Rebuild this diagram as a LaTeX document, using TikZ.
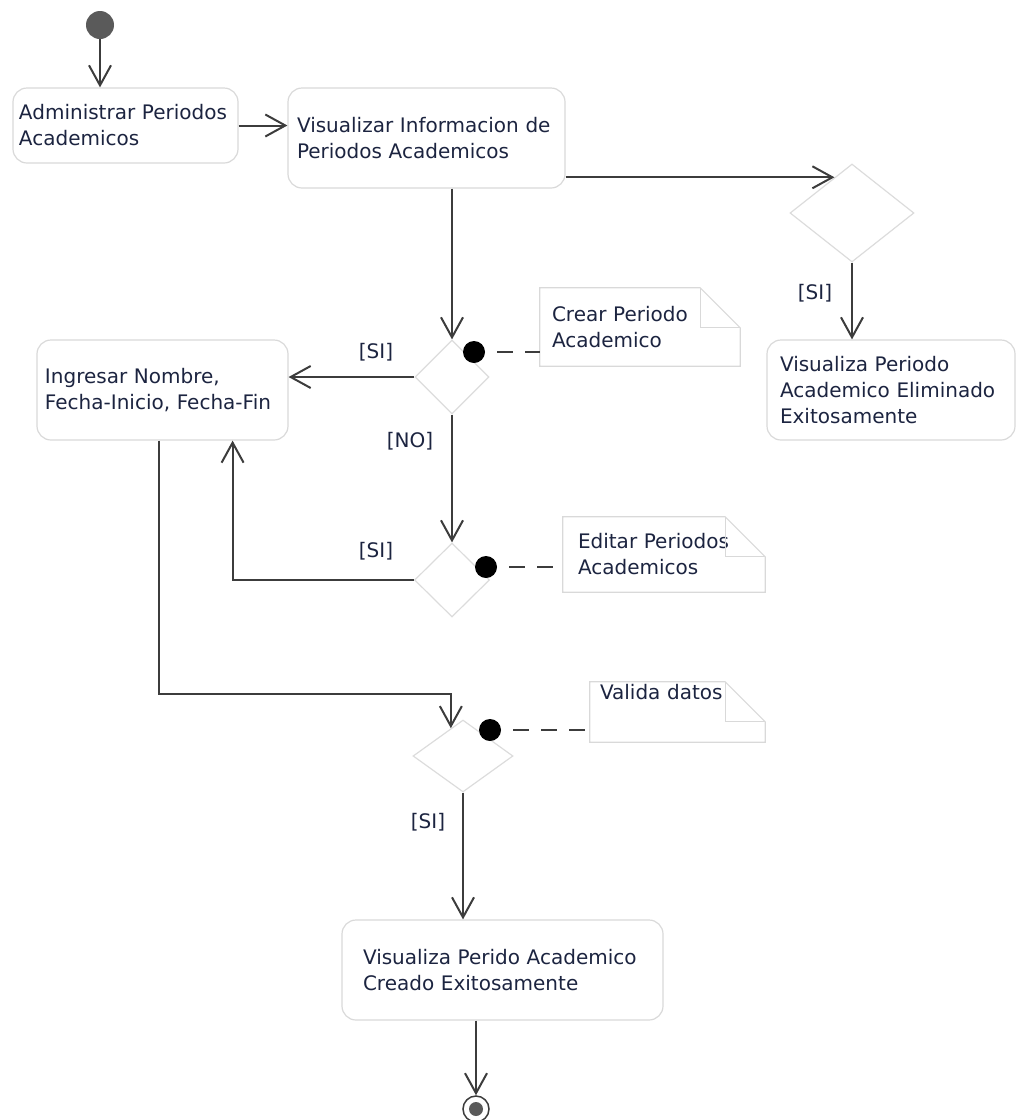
\documentclass[tikz,border=0pt]{standalone}
\usepackage{fontspec}
\setmainfont{DejaVu Sans}
\usetikzlibrary{shapes.geometric,arrows.meta,calc}
\definecolor{linec}{HTML}{3C3C3C}
\definecolor{boxc}{HTML}{D9D9D9}
\definecolor{diac}{HTML}{DCDCDC}
\definecolor{textc}{HTML}{1C2440}
\definecolor{initc}{HTML}{5A5A5A}
\begin{document}
\begin{tikzpicture}[x=1pt,y=-1pt,
  every node/.style={font=\fontsize{20}{26}\selectfont, text=textc},
  act/.style={draw=boxc, line width=1.2pt, rounded corners=14pt, align=left, inner ysep=0pt},
  dec/.style={draw=diac, line width=1.2pt, shape=diamond, inner sep=0pt},
  notebox/.style={align=left, inner ysep=0pt},
  notec/.style={draw=boxc, line width=1.2pt},
  notedot/.style={circle, fill=black, minimum size=22pt, inner sep=0pt},
  flow/.style={draw=linec, line width=2pt, -{Straight Barb[length=20pt,width=22pt]}},
  anchorline/.style={draw=linec, line width=2pt, dash pattern=on 16pt off 12pt, dash phase=16pt},
  guard/.style={inner sep=0pt}
]
\useasboundingbox (0,0) rectangle (1017,1120);

% initial and final
\node[circle, fill=initc, minimum size=28pt, inner sep=0pt] (init) at (100,25) {};
\node[circle, draw=linec, line width=1.5pt, minimum size=26pt, inner sep=0pt] (final) at (476,1109) {};
\node[circle, fill=initc, minimum size=14pt, inner sep=0pt] (finalin) at (final.center) {};

% actions
\node[act, minimum height=75pt, text width=213pt, inner xsep=6pt] (b1) at (125.5,125.5) {Administrar Periodos\\Academicos};
\node[act, minimum height=100pt, text width=259pt, inner xsep=9pt] (b2) at (426.5,138) {Visualizar Informacion de\\Periodos Academicos};
\node[act, minimum height=100pt, text width=235pt, inner xsep=8pt] (b3) at (162.5,390) {Ingresar Nombre,\\Fecha-Inicio, Fecha-Fin};
\node[act, minimum height=100pt, text width=222pt, inner xsep=13pt] (b4) at (891,390) {Visualiza Periodo\\Academico Eliminado\\Exitosamente};
\node[act, minimum height=100pt, text width=279pt, inner xsep=21pt] (b5) at (502.5,970) {Visualiza Perido Academico\\Creado Exitosamente};

% decisions
\node[dec, minimum width=124pt, minimum height=98pt] (d1) at (852,213) {};
\node[dec, minimum width=74pt, minimum height=74pt] (d2) at (452,377) {};
\node[dec, minimum width=75pt, minimum height=74pt] (d3) at (452,580) {};
\node[dec, minimum width=100pt, minimum height=72pt] (d4) at (463,756) {};

% notes
\node[notebox, minimum height=78pt, text width=176pt, inner xsep=12pt] (n1) at (640,327) {Crear Periodo\\Academico};
\node[notebox, minimum height=75pt, text width=172pt, inner xsep=15pt] (n2) at (664,554.5) {Editar Periodos\\Academicos};
\node[notebox, minimum height=60pt, text width=155pt, inner xsep=10pt, text depth=40pt] (n3) at (677.5,712) {Valida datos};
\foreach \n in {n1,n2,n3}{
  \draw[notec] (\n.north west) -- ($(\n.north east)+(-40,0)$) -- ($(\n.north east)+(0,40)$)
     -- (\n.south east) -- (\n.south west) -- cycle;
  \draw[notec] ($(\n.north east)+(-40,0)$) |- ($(\n.north east)+(0,40)$);
}

% note anchors
\node[notedot] (k1) at (474,352) {};
\node[notedot] (k2) at (486,567) {};
\node[notedot] (k3) at (490,730) {};
\draw[anchorline] (k1.east) -- (k1.east -| n1.west);
\draw[anchorline] (k2.east) -- (k2.east -| n2.west);
\draw[anchorline] (k3.east) -- (k3.east -| n3.west);

% guards
\node[guard] (g1) at (815,293) {[SI]};
\node[guard] (g2) at (376,352) {[SI]};
\node[guard] (g3) at (410,441) {[NO]};
\node[guard] (g4) at (376,551) {[SI]};
\node[guard] (g5) at (428,822) {[SI]};

% flows
\draw[flow] (init.south) -- (init.south |- b1.north);
\draw[flow] (b1.east) -- (b1.east -| b2.west);
\coordinate (p1) at ($(d1.north)!0.28!(d1.west)$);
\draw[flow] (b2.east |- p1) -- (p1);
\draw[flow] (d1.south) -- (d1.south |- b4.north);
\draw[flow] (d2.north |- b2.south) -- (d2.north);
\draw[flow] (d2.west) -- (d2.west -| b3.east);
\draw[flow] (d2.south) -- (d3.north);
\coordinate (b3in) at ($(b3.south east)+(-56,0)$);
\draw[flow] (d3.west) -| (b3in);
\coordinate (b3out) at ($(b3.south west)+(123,0)$);
\coordinate (p4) at ($(d4.north)!0.24!(d4.west)$);
\coordinate (p4b) at ($(p4)+(0,-34)$);
\draw[flow] (b3out) |- (p4b) -- (p4);
\draw[flow] (d4.south) -- (d4.south |- b5.north);
\draw[flow] (final.north |- b5.south) -- (final.north);
\end{tikzpicture}
\end{document}
